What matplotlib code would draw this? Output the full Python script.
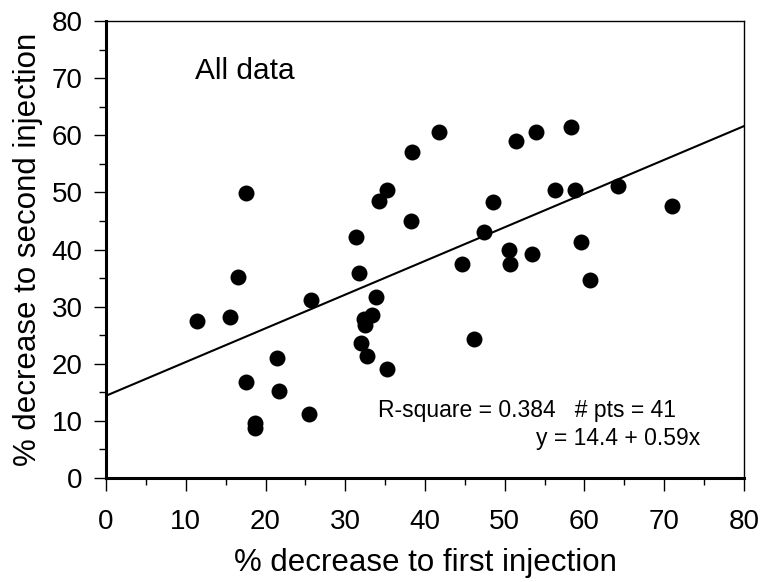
import matplotlib

matplotlib.use("Agg")
import matplotlib.pyplot as plt  # noqa: E402
from matplotlib.ticker import MultipleLocator  # noqa: E402

# % decrease to first / second injection (41 pts)
first_inj = [
    17.6, 38.4, 35.2, 34.2, 38.2, 31.4,
    41.7, 51.4, 53.9, 58.3, 56.3, 58.8, 64.2, 48.5, 71.0, 47.4, 59.6,
    44.7, 50.5, 50.7, 53.4, 60.7, 46.1,
    31.7, 11.4, 15.5, 16.6, 25.7, 33.9, 33.3, 32.3, 32.5, 32.0, 32.7,
    35.2, 21.4, 17.6, 21.7, 25.5, 18.7, 18.7,
]
second_inj = [
    49.9, 57.1, 50.4, 48.5, 45.0, 42.2,
    60.6, 59.0, 60.6, 61.5, 50.4, 50.4, 51.1, 48.4, 47.7, 43.1, 41.3,
    37.4, 40.0, 37.4, 39.3, 34.7, 24.4,
    35.8, 27.5, 28.2, 35.1, 31.2, 31.6, 28.6, 27.8, 26.7, 23.6, 21.4,
    19.1, 21.0, 16.8, 15.3, 11.2, 9.6, 8.7,
]

# fit reported on the chart
intercept = 14.4
slope = 0.59
r_square = 0.384
fit_x = [0, 80]

plt.rcParams["font.family"] = ["Liberation Sans", "DejaVu Sans"]

fig = plt.figure(figsize=(7.65, 5.82), dpi=100)
ax = fig.add_axes([0.1386, 0.1787, 0.8339, 0.7852])

ax.scatter(first_inj, second_inj, s=132, color="black", zorder=3, linewidths=0)
ax.plot(fit_x, [intercept + slope * x for x in fit_x], color="black", lw=1.5)

ax.set_xlim(0, 80)
ax.set_ylim(0, 80)
ax.xaxis.set_major_locator(MultipleLocator(10))
ax.xaxis.set_minor_locator(MultipleLocator(5))
ax.yaxis.set_major_locator(MultipleLocator(10))
ax.yaxis.set_minor_locator(MultipleLocator(5))
ax.tick_params(which="major", direction="out", length=9, width=1, labelsize=20, pad=8)
ax.tick_params(which="minor", direction="out", length=5, width=1)
ax.tick_params(axis="x", pad=13)

for side in ("left", "bottom"):
    ax.spines[side].set_linewidth(2.2)
for side in ("top", "right"):
    ax.spines[side].set_linewidth(1.0)

ax.set_xlabel("% decrease to first injection", fontsize=22.5, labelpad=10)
ax.set_ylabel("% decrease to second injection", fontsize=22.5, labelpad=6)

ax.text(11.2, 71.3, "All data", fontsize=21.5, va="center", ha="left")
ax.text(34.1, 11.8, f"R-square = {r_square}   # pts = {len(first_inj)}",
        fontsize=16.5, va="center", ha="left")
ax.text(74.5, 7.0, f"y = {intercept} + {slope}x", fontsize=16.5, va="center", ha="right")

fig.savefig("out.png", dpi=100)
